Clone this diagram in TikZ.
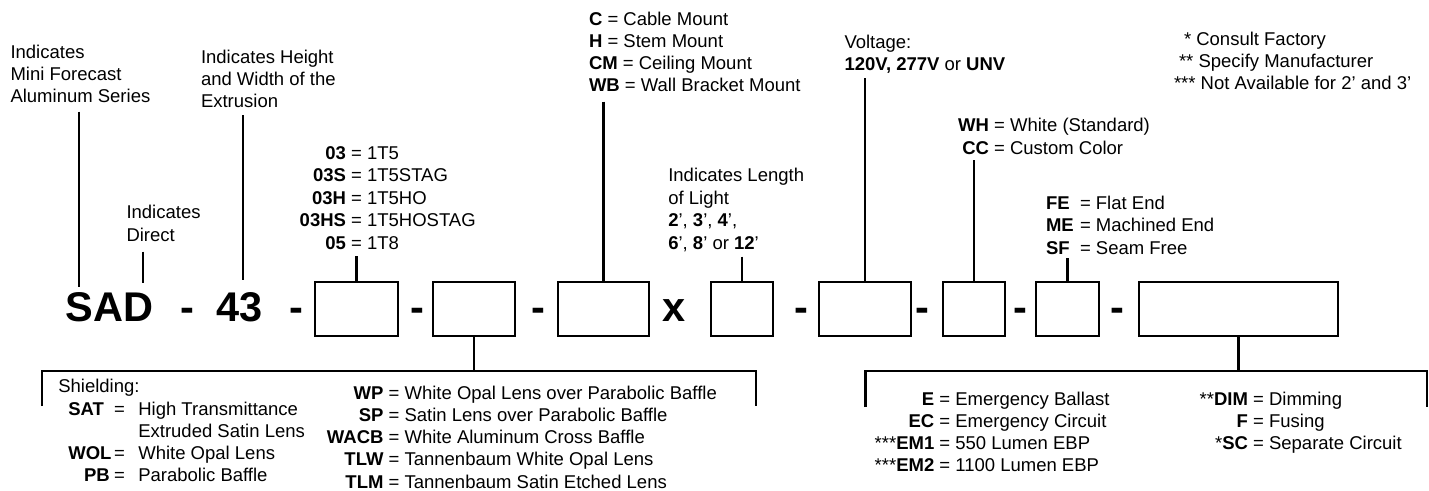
\documentclass[tikz,border=0pt]{standalone}
\usepackage{fontspec}
\setmainfont{Liberation Sans}
\newcommand\pairR[5]{%
  \node[txt,anchor=base east] (#1c) at (#2,#3) {#4};
  \node[txt,anchor=base west] (#1d) at (#2,#3) {\ = #5};}
\tikzset{
  txt/.style={font=\fontsize{18.5}{22.3}\selectfont, inner sep=0pt, outer sep=0pt},
  big/.style={font=\fontsize{41.5}{48}\selectfont\bfseries, inner sep=0pt, outer sep=0pt},
  slot/.style={draw, line width=2.6pt, inner sep=0pt, minimum height=54pt},
  conn/.style={line width=2.2pt},
}
\begin{document}
\begin{tikzpicture}[x=1pt,y=-1pt]
\useasboundingbox (0,0) rectangle (1429,490);

% ---- part-number row ----
\node[big,anchor=base west] (sad) at (65.5,321.5) {SAD};
\node[big,anchor=base] (d0) at (187.5,321.5) {-};
\node[big,anchor=base west] (n43) at (216,321.5) {43};
\node[big,anchor=base] (d1) at (296.5,321.5) {-};
\node[slot,minimum width=83pt] (b1) at (356.5,309) {};
\node[big,anchor=base] (d2) at (417.5,321.5) {-};
\node[slot,minimum width=82pt] (b2) at (474,309) {};
\node[big,anchor=base] (d3) at (538.5,321.5) {-};
\node[slot,minimum width=91pt] (b3) at (603.5,309) {};
\node[big,anchor=base] (xx) at (674.5,321.5) {x};
\node[slot,minimum width=62pt] (b4) at (742,309) {};
\node[big,anchor=base] (d4) at (801,321.5) {-};
\node[slot,minimum width=92pt] (b5) at (865,309) {};
\node[big,anchor=base] (d5) at (922,321.5) {-};
\node[slot,minimum width=62pt] (b6) at (974,309) {};
\node[big,anchor=base] (d6) at (1020,321.5) {-};
\node[slot,minimum width=63pt] (b7) at (1067.5,309) {};
\node[big,anchor=base] (d7) at (1117,321.5) {-};
\node[slot,minimum width=199pt] (b8) at (1238.5,309) {};

% ---- upper labels ----
\node[txt,anchor=base west] (i1a) at (10.5,58.3) {Indicates};
\node[txt,anchor=base west] (i1b) at (10.5,80.5) {Mini Forecast};
\node[txt,anchor=base west] (i1c) at (10.5,102.7) {Aluminum Series};
\node[txt,anchor=base west] (i2a) at (201,63.3) {Indicates Height};
\node[txt,anchor=base west] (i2b) at (201,85.5) {and Width of the};
\node[txt,anchor=base west] (i2c) at (201,107.5) {Extrusion};
\node[txt,anchor=base west] (i3a) at (126.5,218.3) {Indicates};
\node[txt,anchor=base west] (i3b) at (126.5,241) {Direct};

\pairR{l1}{346}{159}{\textbf{03}}{1T5}
\pairR{l2}{346}{181.5}{\textbf{03S}}{1T5STAG}
\pairR{l3}{346}{204}{\textbf{03H}}{1T5HO}
\pairR{l4}{346}{226.5}{\textbf{03HS}}{1T5HOSTAG}
\pairR{l5}{346}{249}{\textbf{05}}{1T8}

\node[txt,anchor=base west] (m1) at (589,25) {\textbf{C} = Cable Mount};
\node[txt,anchor=base west] (m2) at (589,47.2) {\textbf{H} = Stem Mount};
\node[txt,anchor=base west] (m3) at (589,69.4) {\textbf{CM} = Ceiling Mount};
\node[txt,anchor=base west] (m4) at (589,91.6) {\textbf{WB} = Wall Bracket Mount};

\node[txt,anchor=base west] (len1) at (668.3,181.5) {Indicates Length};
\node[txt,anchor=base west] (len2) at (668.3,204) {of Light};
\node[txt,anchor=base west] (len3) at (668.3,226.5) {\textbf{2}’, \textbf{3}’, \textbf{4}’,};
\node[txt,anchor=base west] (len4) at (668.3,249) {\textbf{6}’, \textbf{8}’ or \textbf{12}’};

\node[txt,anchor=base west] (v1) at (844.5,48.3) {Voltage:};
\node[txt,anchor=base west] (v2) at (844.5,70.8) {\textbf{120V, 277V} or \textbf{UNV}};

\pairR{c1}{989}{131.7}{\textbf{WH}}{White (Standard)}
\pairR{c2}{989}{154}{\textbf{CC}}{Custom Color}

\node[txt,anchor=base west] (e1c) at (1046,209) {\textbf{FE}};
\node[txt,anchor=base west] (e1d) at (1080,209) {= Flat End};
\node[txt,anchor=base west] (e2c) at (1046,231.5) {\textbf{ME}};
\node[txt,anchor=base west] (e2d) at (1080,231.5) {= Machined End};
\node[txt,anchor=base west] (e3c) at (1046,254) {\textbf{SF}};
\node[txt,anchor=base west] (e3d) at (1080,254) {= Seam Free};

\node[txt,anchor=base west] (f1) at (1184,45) {* Consult Factory};
\node[txt,anchor=base west] (f2) at (1179,67) {** Specify Manufacturer};
\node[txt,anchor=base west] (f3) at (1174,89) {*** Not Available for 2’ and 3’};

% ---- lower labels ----
\node[txt,anchor=base west] (sh) at (58.3,392.7) {Shielding:};
\node[txt,anchor=base west] (s1c) at (68.3,415) {\textbf{SAT}};
\node[txt,anchor=base west] (s1d) at (114,415) {\makebox[24.3pt][l]{=}High Transmittance};
\node[txt,anchor=base west] (s1e) at (138.3,437) {Extruded Satin Lens};
\node[txt,anchor=base west] (s2c) at (68.3,459.3) {\textbf{WOL}};
\node[txt,anchor=base west] (s2d) at (114,459.3) {\makebox[24.3pt][l]{=}White Opal Lens};
\node[txt,anchor=base west] (s3c) at (84,481.7) {\textbf{PB}};
\node[txt,anchor=base west] (s3d) at (114,481.7) {\makebox[24.3pt][l]{=}Parabolic Baffle};

\pairR{w1}{383.5}{399.3}{\textbf{WP}}{White Opal Lens over Parabolic Baffle}
\pairR{w2}{383.5}{421.5}{\textbf{SP}}{Satin Lens over Parabolic Baffle}
\pairR{w3}{383.5}{443.7}{\textbf{WACB}}{White Aluminum Cross Baffle}
\pairR{w4}{383.5}{465.9}{\textbf{TLW}}{Tannenbaum White Opal Lens}
\pairR{w5}{383.5}{488}{\textbf{TLM}}{Tannenbaum Satin Etched Lens}

\pairR{o1}{934.3}{405}{\textbf{E}}{Emergency Ballast}
\pairR{o2}{934.3}{427}{\textbf{EC}}{Emergency Circuit}
\pairR{o3}{934.3}{449}{***\textbf{EM1}}{550 Lumen EBP}
\pairR{o4}{934.3}{471}{***\textbf{EM2}}{1100 Lumen EBP}
\pairR{p1}{1248}{405}{**\textbf{DIM}}{Dimming}
\pairR{p2}{1248}{427}{\textbf{F}}{Fusing}
\pairR{p3}{1248}{449}{*\textbf{SC}}{Separate Circuit}

% ---- connectors ----
\coordinate (sT) at (79.3,111.7);  \coordinate (sB) at (79.3,286.7);
\coordinate (dT) at (143.3,251.7); \coordinate (dB) at (143.3,283.3);
\coordinate (hT) at (243.3,115);   \coordinate (hB) at (243.3,280);
\draw[conn] (sT) -- (sB);
\draw[conn] (dT) -- (dB);
\draw[conn] (hT) -- (hB);
\coordinate (t1) at (b1.north |- 0,256);
\coordinate (t3) at (b3.north |- 0,101.7);
\coordinate (t4) at (b4.north |- 0,256.7);
\coordinate (t5) at (b5.north |- 0,78.3);
\coordinate (t6) at (b6.north |- 0,160);
\coordinate (t7) at (b7.north |- 0,258);
\draw[conn] (t1) -- (b1.north);
\draw[conn] (t3) -- (b3.north);
\draw[conn] (t4) -- (b4.north);
\draw[conn] (t5) -- (b5.north);
\draw[conn] (t6) -- (b6.north);
\draw[conn] (t7) -- (b7.north);

% brackets
\coordinate (j2) at (b2.south |- 0,371);
\coordinate (L1) at (41.7,406); \coordinate (L2) at (41.7,371);
\coordinate (L3) at (756,371);  \coordinate (L4) at (756,406);
\draw[conn] (b2.south) -- (j2);
\draw[conn] (L1) -- (L2) -- (L3) -- (L4);
\coordinate (j8) at (b8.south |- 0,371);
\coordinate (R1) at (865.5,407); \coordinate (R2) at (865.5,371);
\coordinate (R3) at (1427,371);  \coordinate (R4) at (1427,407);
\draw[conn] (b8.south) -- (j8);
\draw[conn] (R1) -- (R2) -- (R3) -- (R4);
\end{tikzpicture}
\end{document}
